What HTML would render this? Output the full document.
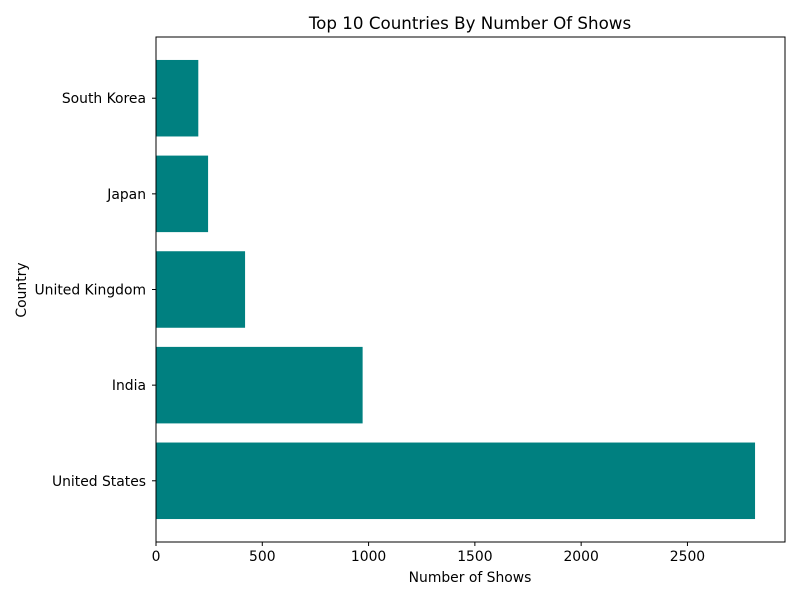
<!DOCTYPE html>
<html><head><meta charset="utf-8"><style>
body{margin:0;background:#fff;}
svg{display:block;font-family:"DejaVu Sans","Liberation Sans",sans-serif;}
</style></head><body>
<svg id="chart" width="800" height="600">
<text x="470" y="29" text-anchor="middle" font-size="16.7">Top 10 Countries By Number Of Shows</text>
<text x="470" y="582" text-anchor="middle" font-size="13.9">Number of Shows</text>
<text transform="translate(26,290) rotate(-90)" text-anchor="middle" font-size="13.9">Country</text>
<g id="bars"></g><g id="ticks"></g>
<rect x="156" y="37" width="629" height="505" fill="none" stroke="#000" stroke-width="1"/>
</svg>
<script>
const categories = ["United States","India","United Kingdom","Japan","South Korea"];
const values = [2818, 972, 419, 245, 199];
const xTicks = [0, 500, 1000, 1500, 2000, 2500];
const L=156,R=785,T=37,B=542;
const xMax = Math.max(...values)*1.05;
const n = categories.length;
const yMin=-0.4-0.05*(n-1+0.8), yMax=n-1+0.4+0.05*(n-1+0.8);
const xs=v=>L+v/xMax*(R-L);
const ys=v=>B-(v-yMin)/(yMax-yMin)*(B-T);
const NS="http://www.w3.org/2000/svg";
const bars=document.getElementById('bars'), ticks=document.getElementById('ticks');
function mk(tag,attrs,parent){const e=document.createElementNS(NS,tag);for(const k in attrs)e.setAttribute(k,attrs[k]);parent.appendChild(e);return e;}
categories.forEach((c,i)=>{
  const y0=ys(i+0.4), y1=ys(i-0.4);
  const r=mk('rect',{x:xs(0),y:y0,width:xs(values[i])-xs(0),height:y1-y0,fill:'#008080'},bars);
  
  
  const yc=ys(i);
  const tl=mk('line',{x1:L-4,x2:L,y1:yc,y2:yc,stroke:'#000'},ticks);
  
  
  const t=mk('text',{x:L-10,y:yc+5,'text-anchor':'end','font-size':13.9},ticks);
  t.textContent=c;
  
  
});
xTicks.forEach(v=>{
  const x=xs(v);
  const tl=mk('line',{x1:x,x2:x,y1:B,y2:B+4,stroke:'#000'},ticks);
  
  
  const t=mk('text',{x:x,y:B+19,'text-anchor':'middle','font-size':13.9},ticks);
  t.textContent=v;
  
  
});
</script>
</body></html>
